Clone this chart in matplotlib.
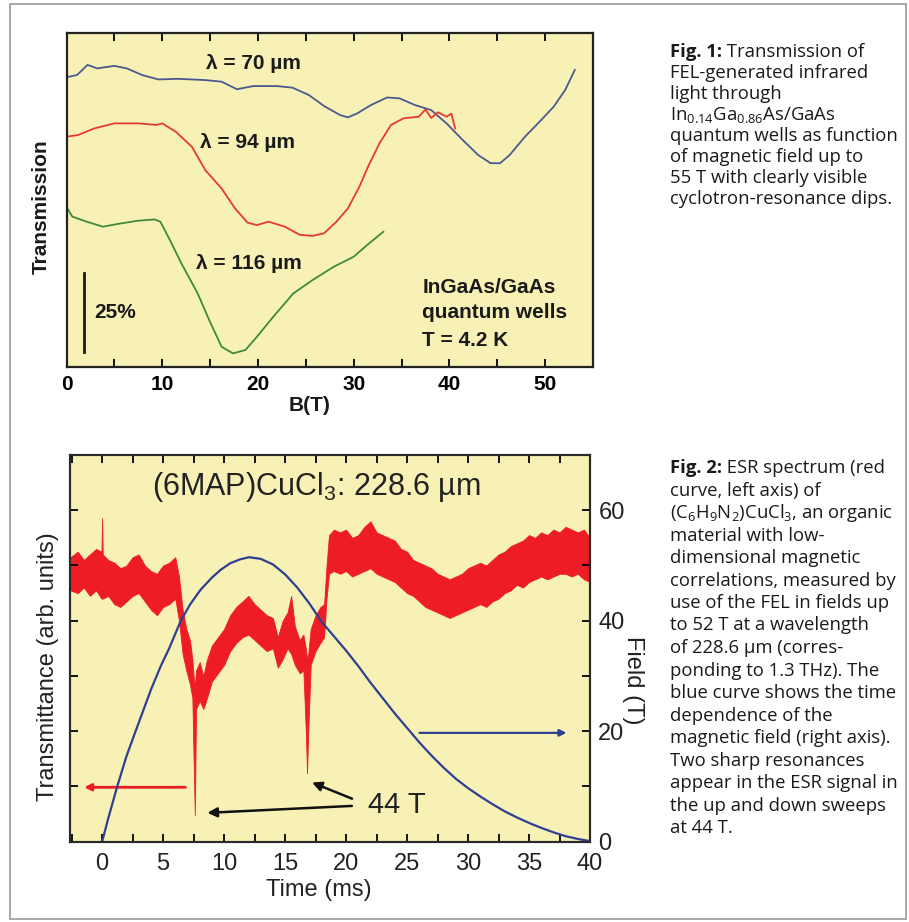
"""Two FEL panels (cyclotron resonance, ESR spectrum) with their captions."""

from matplotlib import pyplot
from matplotlib.patches import Rectangle
from matplotlib.ticker import MultipleLocator

pyplot.rcParams["mathtext.fontset"] = "custom"
pyplot.rcParams["mathtext.rm"] = "Open Sans"
pyplot.rcParams["mathtext.sf"] = "Liberation Sans"

# Fig. 1: transmission (%, curves offset) vs field B (T)
b_70 = [0, 1.1, 2.2, 3.2, 5.0, 6.3, 7.9, 9.6, 11.6, 14.5, 16.2, 17.8, 19.5, 22.0,
        23.6, 25.3, 26.9, 28.6, 29.4, 30.4, 31.8, 33.5, 34.8, 36.4, 38.1, 39.7,
        41.4, 43.0, 44.3, 45.3, 46.3, 47.9, 49.6, 50.9, 52.1, 53.1]
tr_70 = [91.7, 92.4, 95.6, 94.5, 95.3, 94.5, 92.4, 91.0, 91.2, 90.8, 90.3, 87.9,
         88.9, 88.9, 88.4, 86.1, 82.6, 79.7, 79.0, 80.3, 82.9, 85.3, 85.0, 82.9,
         81.3, 77.1, 71.8, 67.1, 64.5, 64.5, 67.1, 72.9, 78.2, 82.4, 87.7, 94.0]
b_94 = [0, 1.2, 2.9, 5.0, 7.5, 9.4, 10.0, 11.4, 13.1, 14.5, 16.2, 17.6, 18.9, 19.9,
        21.1, 22.8, 24.4, 25.7, 26.9, 28.2, 29.4, 30.6, 31.5, 32.7, 33.9, 35.2,
        36.8, 37.5, 38.1, 38.8, 39.7, 40.2, 40.6]
tr_94 = [72.9, 73.4, 75.5, 77.1, 77.1, 76.6, 77.1, 74.5, 69.7, 62.3, 56.5, 50.2,
         45.7, 44.9, 46.0, 44.4, 41.8, 41.5, 42.3, 46.0, 50.2, 57.1, 63.4, 70.8,
         76.6, 78.7, 79.2, 81.5, 78.8, 80.6, 79.2, 80.2, 75.5]
b_116 = [0, 0.6, 2.1, 3.8, 5.4, 7.5, 9.2, 9.8, 10.8, 12.0, 13.7, 14.9, 16.2, 17.4,
         18.7, 19.9, 21.6, 23.7, 25.7, 27.9, 30.0, 31.6, 33.1]
tr_116 = [50.7, 47.6, 46.0, 44.4, 45.3, 46.3, 46.7, 46.0, 40.2, 32.8, 23.3, 14.9,
          6.4, 4.3, 5.4, 9.6, 15.9, 23.3, 27.5, 31.7, 34.9, 39.1, 42.8]
b_ticks = [0, 10, 20, 30, 40, 50]
b_labels = ["0", "10", "20", "30", "40", "50"]

# Fig. 2: ESR transmittance band (low / high envelope, arb. units) vs time (ms)
t_esr = [-2.6, -2.0, -1.5, -1.0, -0.5, -0.05, 0.0, 0.05, 0.5, 1.0, 1.5, 2.0, 2.5,
         3.0, 3.5, 4.0, 4.5, 5.0, 5.5, 6.0, 6.3, 6.6, 6.9, 7.2, 7.4, 7.5, 7.6,
         7.7, 8.0, 8.3, 8.6, 9.0, 9.5, 10.0, 10.5, 11.0, 11.5, 12.0, 12.5, 13.0,
         13.5, 14.0, 14.4, 14.8, 15.2, 15.5, 15.8, 16.2, 16.5, 16.7, 16.8, 16.9,
         17.1, 17.5, 17.9, 18.2, 18.4, 18.6, 19.0, 19.5, 20.0, 20.5, 21.0, 21.5,
         22.0, 22.5, 23.0, 23.5, 24.0, 24.5, 25.0, 25.5, 26.0, 26.5, 27.0, 27.5,
         28.0, 28.5, 29.0, 29.5, 30.0, 30.5, 31.0, 31.5, 32.0, 32.5, 33.0, 33.5,
         34.0, 34.5, 35.0, 35.5, 36.0, 36.5, 37.0, 37.5, 38.0, 38.5, 39.0, 39.5,
         40.0]
esr_lo = [45.5, 45.0, 46.0, 44.5, 45.5, 44.0, 44.0, 44.0, 44.5, 43.0, 42.5, 43.5,
          44.5, 45.0, 43.5, 42.0, 41.0, 42.5, 43.0, 44.0, 40.0, 34.0, 31.0, 28.5,
          26.0, 15.0, 4.8, 24.0, 25.5, 24.0, 26.0, 29.0, 30.5, 32.0, 34.5, 36.0,
          37.0, 37.5, 36.5, 35.5, 34.5, 35.0, 31.5, 33.0, 35.0, 34.0, 32.0, 30.5,
          31.0, 20.0, 12.4, 20.0, 32.0, 34.5, 36.0, 37.0, 44.0, 48.5, 49.0, 48.5,
          49.0, 48.0, 48.5, 49.0, 49.5, 48.5, 48.0, 47.5, 47.0, 46.0, 45.0, 44.5,
          43.5, 42.5, 42.0, 41.5, 41.0, 40.5, 41.0, 41.5, 42.0, 42.5, 43.0, 42.5,
          43.5, 44.0, 45.0, 45.5, 46.5, 46.0, 47.0, 47.5, 48.0, 47.5, 48.0, 48.5,
          48.5, 48.0, 48.5, 47.5, 47.0]
esr_hi = [51.5, 52.5, 51.0, 52.0, 53.0, 52.5, 58.6, 52.0, 51.0, 50.5, 49.5, 50.0,
          51.5, 52.0, 50.0, 49.0, 48.5, 50.0, 50.5, 51.5, 48.0, 42.0, 38.5, 36.5,
          33.0, 30.0, 28.0, 31.0, 32.5, 30.0, 33.0, 35.5, 37.0, 38.5, 41.0, 42.5,
          43.5, 44.5, 43.0, 42.0, 41.0, 40.5, 37.0, 40.0, 41.5, 44.5, 39.0, 36.5,
          37.5, 35.0, 33.0, 34.0, 38.5, 41.0, 42.5, 43.0, 50.0, 55.5, 56.5, 56.0,
          56.5, 55.0, 55.5, 57.0, 58.0, 56.0, 55.5, 55.0, 54.5, 53.0, 52.5, 51.0,
          50.5, 50.0, 49.5, 48.5, 48.0, 47.5, 48.0, 48.5, 49.5, 50.0, 50.5, 50.0,
          51.0, 52.0, 52.5, 53.5, 54.0, 54.5, 55.5, 55.0, 56.0, 55.5, 56.5, 56.0,
          57.0, 56.5, 56.0, 56.5, 55.0]

# Fig. 2: magnetic field pulse (T) vs time (ms)
t_field = [0, 0.5, 1.24, 2.0, 2.88, 4.0, 4.79, 5.5, 6.43, 7.2, 8.07, 9.0, 9.71,
           10.5, 11.3, 12.04, 13, 14, 15, 16, 17, 18, 19, 20, 21, 22, 23, 24, 25,
           26, 27, 28, 29, 30, 31, 32, 33, 34, 35, 36, 37, 38, 39, 40]
field = [0, 4.2, 10.0, 15.5, 20.8, 27.5, 31.7, 35.0, 39.9, 42.9, 45.6, 47.8, 49.2,
         50.4, 51.1, 51.5, 51.2, 50.2, 48.4, 46.0, 43.1, 39.8, 37.2, 34.6, 31.8,
         28.8, 26.0, 23.2, 20.6, 18.0, 15.6, 13.4, 11.4, 9.7, 8.2, 6.8, 5.5, 4.4,
         3.4, 2.5, 1.7, 1.0, 0.5, 0.1]
t_ticks = [0, 5, 10, 15, 20, 25, 30, 35, 40]
field_ticks = [0, 20, 40, 60]

caption_1 = [
    ("Fig. 1:", " Transmission of"),
    ("", "FEL-generated infrared"),
    ("", "light through"),
    ("", "In$_\\mathrm{0.14}$Ga$_\\mathrm{0.86}$As/GaAs"),
    ("", "quantum wells as function"),
    ("", "of magnetic field up to"),
    ("", "55 T with clearly visible"),
    ("", "cyclotron-resonance dips."),
]
caption_2 = [
    ("Fig. 2:", " ESR spectrum (red"),
    ("", "curve, left axis) of"),
    ("", "(C$_\\mathrm{6}$H$_\\mathrm{9}$N$_\\mathrm{2}$)CuCl$_\\mathrm{3}$, an organic"),
    ("", "material with low-"),
    ("", "dimensional magnetic"),
    ("", "correlations, measured by"),
    ("", "use of the FEL in fields up"),
    ("", "to 52 T at a wavelength"),
    ("", "of 228.6 µm (corres-"),
    ("", "ponding to 1.3 THz). The"),
    ("", "blue curve shows the time"),
    ("", "dependence of the"),
    ("", "magnetic field (right axis)."),
    ("", "Two sharp resonances"),
    ("", "appear in the ESR signal in"),
    ("", "the up and down sweeps"),
    ("", "at 44 T."),
]

BG = "#f8f1b6"
W, H = 909, 922

fig = pyplot.figure(figsize=(W / 100, H / 100), dpi=100)
fig.patches.append(Rectangle((10 / W, 3 / H), 896 / W, 915 / H, transform=fig.transFigure,
                             fill=False, edgecolor="#9a9a9a", linewidth=1.2))

# ---- Fig. 1 ----
ax1 = fig.add_axes([66.5 / W, 1 - 367 / H, 526.5 / W, 334 / H])
ax1.set_facecolor(BG)
ax1.plot(b_70, tr_70, color="#4b5a8e", linewidth=1.3)
ax1.plot(b_94, tr_94, color="#e63a2e", linewidth=1.3)
ax1.plot(b_116, tr_116, color="#3f8a3a", linewidth=1.3)
ax1.set_xlim(0, 55)
ax1.set_ylim(0, 105.7)
ax1.set_xticks(b_ticks, labels=b_labels, fontsize=15, fontweight="bold",
               family="Liberation Sans")
ax1.xaxis.set_minor_locator(MultipleLocator(5))
ax1.tick_params(axis="x", which="both", direction="in", top=True, length=6,
                width=1.3, pad=6)
ax1.set_yticks([])
for spine in ax1.spines.values():
    spine.set_linewidth(1.6)
    spine.set_color("#222222")
bold = dict(fontsize=15, fontweight="bold", family="Liberation Sans", color="#1a1a1a")
ax1.set_xlabel("B(T)", **bold)
ax1.xaxis.set_label_coords(0.4625, -0.087)
ax1.set_ylabel("Transmission", **bold)
ax1.yaxis.set_label_coords(-0.0294, 0.479)
ax1.text(19.5, 96.2, "λ = 70 µm", ha="center", va="center", **bold)
ax1.text(18.9, 70.9, "λ = 94 µm", ha="center", va="center", **bold)
ax1.text(19.1, 32.6, "λ = 116 µm", ha="center", va="center", **bold)
ax1.plot([1.83, 1.83], [4.7, 29.7], color="#1a1a1a", linewidth=2)
ax1.text(2.87, 17.1, "25%", ha="left", va="center", **bold)
for label, y in zip(["InGaAs/GaAs", "quantum wells", "T = 4.2 K"], [25.3, 17.1, 8.5]):
    ax1.text(37.15, y, label, ha="left", va="center", **bold)

# ---- Fig. 2 ----
ax = fig.add_axes([70.4 / W, 1 - 841.7 / H, 519.6 / W, 386.7 / H])
ax.set_facecolor(BG)
ax2 = ax.twinx()
ax.fill_between(t_esr, esr_lo, esr_hi, color="#ee1d25", linewidth=0.6)
ax2.plot(t_field, field, color="#2f3f92", linewidth=1.6)
for a in (ax, ax2):
    a.set_xlim(-2.6, 40)
    a.set_ylim(0, 70)
    for spine in a.spines.values():
        spine.set_linewidth(1.5)
        spine.set_color("#2a2a2a")

plain = dict(family="Liberation Sans", color="#222222")
ax.set_xticks(t_ticks, labels=[str(v) for v in t_ticks], fontsize=17, **plain)
ax.xaxis.set_minor_locator(MultipleLocator(2.5))
ax.tick_params(axis="x", which="both", direction="in", top=True, length=6,
               width=1.3, pad=8)
ax.yaxis.set_major_locator(MultipleLocator(10))
ax.tick_params(axis="y", which="both", direction="in", length=6, width=1.3,
               labelleft=False)
ax2.set_yticks(field_ticks, labels=[str(v) for v in field_ticks], fontsize=17, **plain)
ax2.yaxis.set_minor_locator(MultipleLocator(10))
ax2.tick_params(axis="y", which="both", direction="in", length=6, width=1.3, pad=6)

ax.set_xlabel("Time (ms)", fontsize=17, **plain)
ax.xaxis.set_label_coords(0.478, -0.096)
ax.set_ylabel("Transmittance (arb. units)", fontsize=17, **plain)
ax.yaxis.set_label_coords(-0.022, 0.452)
ax2.set_ylabel("Field (T)", fontsize=17, rotation=270, va="center", **plain)
ax2.yaxis.set_label_coords(1.083, 0.418)

ax.text(17.6, 62.8, "(6MAP)CuCl$_\\mathsf{3}$: 228.6 µm", ha="center", va="baseline",
        fontsize=22, **plain)
ax.text(21.8, 6.6, "44 T", ha="left", va="center", fontsize=21, **plain)
ax.annotate("", xy=(-1.7, 9.85), xytext=(7.06, 9.85),
            arrowprops=dict(arrowstyle="-|>", color="#ee1d25", lw=2, mutation_scale=10))
ax.annotate("", xy=(38.3, 19.7), xytext=(25.8, 19.7),
            arrowprops=dict(arrowstyle="-|>", color="#2f3f92", lw=1.6, mutation_scale=10))
ax.annotate("", xy=(8.4, 5.2), xytext=(20.7, 6.5),
            arrowprops=dict(arrowstyle="-|>", color="#111111", lw=1.8, mutation_scale=14))
ax.annotate("", xy=(17.0, 10.9), xytext=(20.7, 7.6),
            arrowprops=dict(arrowstyle="-|>", color="#111111", lw=1.8, mutation_scale=14))

# ---- captions ----
renderer = fig.canvas.get_renderer()
cap = dict(fontsize=13.3, family="Open Sans", color="#1a1a1a", va="baseline")


def write_caption(lines, top, step):
    for i, (head, rest) in enumerate(lines):
        y = 1 - (top + i * step) / H
        x = 669.5 / W
        if head:
            t = fig.text(x, y, head, fontweight="bold", **cap)
            x = t.get_window_extent(renderer=renderer).x1 / W
        fig.text(x, y, rest, **cap)


write_caption(caption_1, 56.7, 21.0)
write_caption(caption_2, 473, 22.5)

fig.savefig("out.png", dpi=100, facecolor="white")
